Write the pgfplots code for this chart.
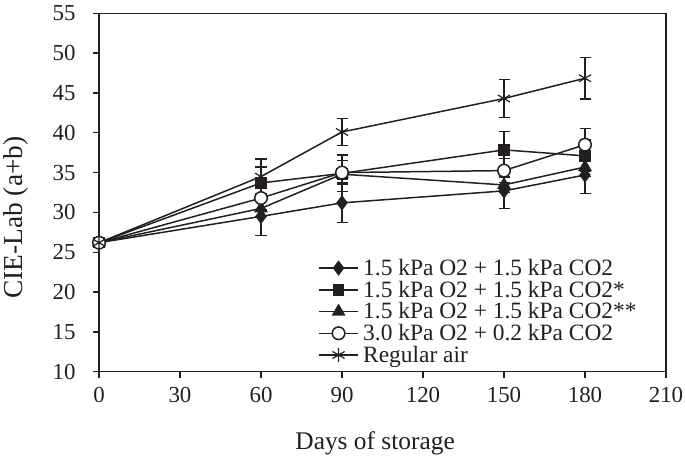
\documentclass[border=0pt]{standalone}
\usepackage{pgfplots}
\pgfplotsset{compat=1.18}
\usepackage{fontspec}
\setmainfont{Liberation Serif}
\definecolor{ink}{HTML}{231F20}
\begin{document}
\begin{tikzpicture}
\begin{axis}[
  scale only axis, width=567bp, height=358.4bp,
  xmin=0, xmax=210, ymin=10, ymax=55,
  xtick={0,30,...,210}, ytick={10,15,...,55},
  tick align=outside, tick pos=left, major tick length=6bp,
  axis line style={line width=1.3pt, ink}, tick style={line width=1.3pt, ink},
  /pgf/number format/assume math mode=true,
  font=\fontsize{23}{26}\selectfont, color=ink,
  xticklabel style={yshift=-6bp},
  yticklabel style={xshift=-14bp},
  xlabel={Days of storage}, ylabel={CIE-Lab (a+b)},
  xlabel style={font=\fontsize{25.5}{28}\selectfont, at={(axis description cs:0.487,-0.199)}, anchor=center},
  ylabel style={font=\fontsize{27.5}{30}\selectfont, at={(axis description cs:-0.146,0.43)}, anchor=center},
  every axis plot/.append style={line width=1.5pt, ink},
  legend style={draw=none, fill=none, at={(axis cs:81,24.4)}, anchor=north west,
    font=\fontsize{23.5}{24}\selectfont, row sep=0pt, inner sep=0pt,
    /tikz/every odd column/.append style={column sep=2pt}},
  legend cell align=left,
  legend image code/.code={\draw[mark repeat=2,mark phase=2] plot coordinates {(0pt,0pt) (20pt,0pt) (40pt,0pt)};},
  error bars/y dir=both, error bars/y explicit,
  error bars/error bar style={line width=1.2pt, ink},
  error bars/error mark options={rotate=90, mark size=5.5bp, line width=1.2pt, ink},
]
\addplot[mark=diamond*, mark size=6.5pt, mark options={fill=ink, solid}] coordinates {
 (0,26.2) +- (0,0) (60,29.5) +- (0,2.4) (90,31.2) +- (0,2.5) (150,32.7) +- (0,2.2) (180,34.7) +- (0,2.3)};
\addlegendentry{1.5 kPa O2 + 1.5 kPa CO2}
\addplot[mark=square*, mark size=5pt, mark options={fill=ink, solid}] coordinates {
 (0,26.2) +- (0,0) (60,33.7) +- (0,2.0) (90,34.9) +- (0,2.3) (150,37.85) +- (0,2.3) (180,37.1) +- (0,2.0)};
\addlegendentry{1.5 kPa O2 + 1.5 kPa CO2*}
\addplot[mark=triangle*, mark size=6.5pt, mark options={fill=ink, solid}] coordinates {
 (0,26.2) +- (0,0) (60,30.5) +- (0,1.0) (90,34.8) +- (0,0.7) (150,33.45) +- (0,1.0) (180,35.7) +- (0,1.2)};
\addlegendentry{1.5 kPa O2 + 1.5 kPa CO2**}
\addplot[mark=*, mark size=6.3pt, mark options={fill=white, solid}] coordinates {
 (0,26.2) +- (0,0) (60,31.8) +- (0,1.5) (90,35.0) +- (0,1.5) (150,35.25) +- (0,1.5) (180,38.5) +- (0,2.0)};
\addlegendentry{3.0 kPa O2 + 0.2 kPa CO2}
\addplot[mark=asterisk, mark size=7pt, mark options={solid, line width=1.2pt}] coordinates {
 (0,26.2) +- (0,0) (60,34.5) +- (0,2.2) (90,40.1) +- (0,1.7) (150,44.3) +- (0,2.4) (180,46.85) +- (0,2.6)};
\addlegendentry{Regular air}
\end{axis}
\pgfresetboundingbox
\useasboundingbox ([shift={(-99bp,-86.3bp)}]current axis.south west) rectangle ([shift={(19bp,13.3bp)}]current axis.north east);
\end{tikzpicture}
\end{document}
